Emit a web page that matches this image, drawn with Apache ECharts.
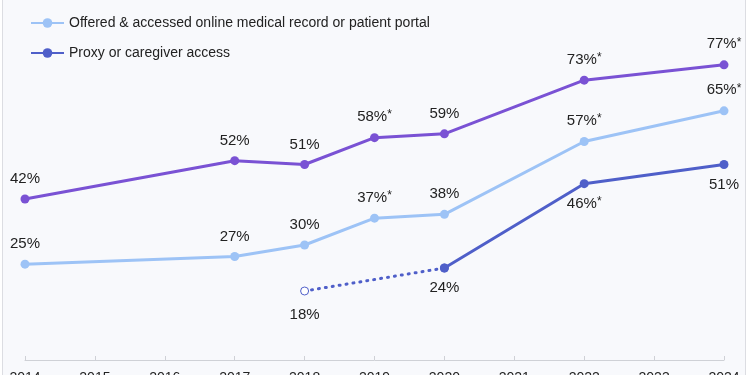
<!DOCTYPE html>
<html>
<head>
<meta charset="utf-8">
<script src="https://cdn.jsdelivr.net/npm/echarts@6/dist/echarts.min.js"></script>
<style>
  html, body { margin: 0; padding: 0; background: #fff; }
  #chart { width: 750px; height: 375px; }
</style>
</head>
<body>
<div id="chart"></div>
<script>
// years on the x axis
var years = ['2014','2015','2016','2017','2018','2019','2020','2021','2022','2023','2024'];
// values (null = not surveyed that year)
var anyAccess   = [42, null, null, 52, 51, 58, 59, null, 73, null, 77];
var anyStar     = [0,  0,    0,    0,  0,  1,  0,  0,    1,  0,    1];
var portal      = [25, null, null, 27, 30, 37, 38, null, 57, null, 65];
var portalStar  = [0,  0,    0,    0,  0,  1,  0,  0,    1,  0,    1];
var proxy       = [null, null, null, null, null, null, 24, null, 46, null, 51];
var proxyStar   = [0,    0,    0,    0,    0,    0,    0,  0,    1,  0,    0];
var proxyEarly  = [null, null, null, null, 18, null, 24, null, null, null, null];

var chart = echarts.init(document.getElementById('chart'));

function lbl(stars) {
  return function (p) {
    return p.value + '%' + (stars[p.dataIndex] ? '{s|*}' : '');
  };
}
var labelText = {
  color: '#222',
  fontSize: 15,
  fontFamily: 'Liberation Sans, Arial, sans-serif',
  rich: { s: { fontSize: 12, verticalAlign: 'top', padding: [0, 0, 4, 0], color: '#222' } }
};

var option = {
  backgroundColor: '#fff',
  animation: false,
  graphic: [{
    type: 'rect',
    z: -10,
    shape: { x: 2.5, y: -5, width: 743, height: 390 },
    style: { fill: '#f8f9fc', stroke: '#dcdde2', lineWidth: 1 }
  }],
  legend: {
    orient: 'vertical',
    left: 25,
    top: 11,
    itemGap: 16,
    itemWidth: 33,
    itemHeight: 12,
    data: ['Offered & accessed online medical record or patient portal', 'Proxy or caregiver access'],
    textStyle: { color: '#222', fontSize: 14, fontFamily: 'Liberation Sans, Arial, sans-serif' }
  },
  grid: { left: 25, right: 26, top: 15, bottom: 15, outerBoundsMode: 'none', containLabel: false },
  xAxis: {
    type: 'category',
    data: years,
    boundaryGap: false,
    axisLine: { lineStyle: { color: '#cfd1d6' } },
    axisTick: { inside: true, length: 4, lineStyle: { color: '#cfd1d6' } },
    axisLabel: { color: '#222', fontSize: 14, margin: 11, fontFamily: 'Liberation Sans, Arial, sans-serif' },
    splitLine: { show: false }
  },
  yAxis: {
    type: 'value',
    min: 0,
    max: 90,
    show: false
  },
  series: [
    {
      name: 'Any online access',
      type: 'line',
      data: anyAccess,
      connectNulls: true,
      color: '#7a52d4',
      lineStyle: { width: 3 },
      symbol: 'circle',
      symbolSize: 9,
      label: Object.assign({ show: true, position: 'top', distance: 8, formatter: lbl(anyStar) }, labelText)
    },
    {
      name: 'Offered & accessed online medical record or patient portal',
      type: 'line',
      data: portal,
      connectNulls: true,
      color: '#9dc3f6',
      lineStyle: { width: 3 },
      symbol: 'circle',
      symbolSize: 9,
      label: Object.assign({ show: true, position: 'top', distance: 8, formatter: lbl(portalStar) }, labelText)
    },
    {
      name: 'Proxy early',
      type: 'line',
      data: proxyEarly,
      connectNulls: true,
      color: '#4f5fc9',
      lineStyle: { width: 3, color: '#4f5fc9', type: [1, 6], cap: 'round' },
      symbol: 'circle',
      symbolSize: 8,
      itemStyle: { color: '#ffffff', borderColor: '#4f5fc9', borderWidth: 1 },
      label: Object.assign({ show: true, position: 'bottom', distance: 12,
        formatter: function (p) { return p.dataIndex === 4 ? p.value + '%' : ''; } }, labelText),
      z: 1
    },
    {
      name: 'Proxy or caregiver access',
      type: 'line',
      data: proxy,
      connectNulls: true,
      color: '#4f5fc9',
      lineStyle: { width: 3 },
      symbol: 'circle',
      symbolSize: 9,
      label: Object.assign({ show: true, position: 'bottom', distance: 8, formatter: lbl(proxyStar) }, labelText),
      z: 3
    }
  ]
};

chart.setOption(option);
window.addEventListener('resize', function () { chart.resize(); });
</script>
</body>
</html>
